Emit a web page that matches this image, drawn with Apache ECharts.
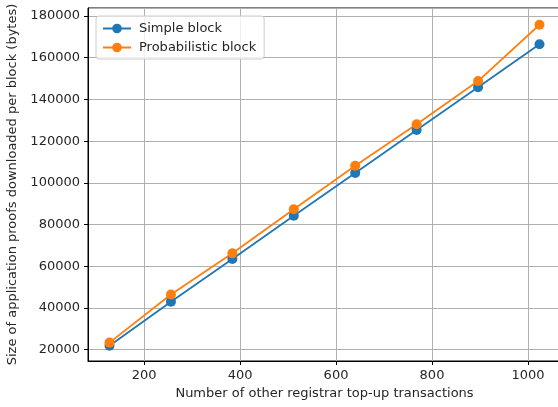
<!DOCTYPE html>
<html>
<head>
<meta charset="utf-8">
<script src="https://cdn.jsdelivr.net/npm/echarts@6/dist/echarts.min.js"></script>
<style>
  html, body { margin: 0; padding: 0; background: #fff; }
  #chart { width: 558px; height: 407px; }
</style>
</head>
<body>
<div id="chart"></div>
<script>
// valores
const transacoes = [128, 256, 384, 512, 640, 768, 896, 1024];
const blocoSimples = [21900, 43000, 63500, 84200, 104700, 125300, 145800, 166500];
const blocoProbabilistico = [23400, 46500, 66200, 87300, 108200, 128100, 148800, 175800];
const nomesSeries = ['Simple block', 'Probabilistic block'];

const fonte = 'DejaVu Sans';
const corTexto = '#262626';

var chart = echarts.init(document.getElementById('chart'), null, { renderer: 'canvas' });

function pares(ys) {
    return transacoes.map(function (x, i) { return [x, ys[i]]; });
}

var option = {
    animation: false,
    textStyle: { fontFamily: fonte },
    grid: {
        left: 88,
        top: 8,
        right: -3,
        bottom: 46,
        show: true,
        borderColor: '#000',
        borderWidth: 1,
        backgroundColor: 'transparent',
        outerBoundsMode: 'none'
    },
    legend: {
        orient: 'vertical',
        left: 96,
        top: 16,
        padding: [6, 8, 5, 6],
        itemGap: 6,
        itemWidth: 28,
        itemHeight: 12,
        backgroundColor: 'rgba(255,255,255,0.8)',
        borderColor: '#cccccc',
        borderWidth: 1,
        borderRadius: 3,
        textStyle: { fontFamily: fonte, fontSize: 13, color: corTexto, padding: [0, 0, 0, 3] },
        data: nomesSeries
    },
    xAxis: {
        type: 'value',
        min: 83.2,
        max: 1068.8,
        splitNumber: 5,
        minInterval: 200,
        maxInterval: 200,
        name: 'Number of other registrar top-up transactions',
        nameLocation: 'middle',
        nameGap: 26,
        nameTextStyle: { fontFamily: fonte, fontSize: 13, color: corTexto },
        axisLine: { show: true, onZero: false, lineStyle: { color: '#000', width: 1 } },
        axisTick: { show: true, length: 4, lineStyle: { color: '#000' } },
        axisLabel: {
            fontFamily: fonte, fontSize: 13, color: corTexto, margin: 8,
            showMinLabel: false, showMaxLabel: false,
            formatter: function (v) { return String(v); }
        },
        splitLine: { show: true, lineStyle: { color: '#b0b0b0', width: 1 } }
    },
    yAxis: {
        type: 'value',
        min: 14580,
        max: 183840,
        splitNumber: 8,
        minInterval: 20000,
        maxInterval: 20000,
        name: 'Size of application proofs downloaded per block (bytes)',
        nameLocation: 'middle',
        nameGap: 59,
        nameTextStyle: { fontFamily: fonte, fontSize: 13, color: corTexto },
        axisLine: { show: true, onZero: false, lineStyle: { color: '#000', width: 1 } },
        axisTick: { show: true, length: 4, lineStyle: { color: '#000' } },
        axisLabel: {
            fontFamily: fonte, fontSize: 13, color: corTexto, margin: 8,
            showMinLabel: false, showMaxLabel: false,
            formatter: function (v) { return String(v); }
        },
        splitLine: { show: true, lineStyle: { color: '#b0b0b0', width: 1 } }
    },
    series: [
        {
            name: nomesSeries[0],
            type: 'line',
            data: pares(blocoSimples),
            symbol: 'circle',
            symbolSize: 10,
            color: '#1f77b4',
            lineStyle: { width: 1.8 },
            itemStyle: { color: '#1f77b4' }
        },
        {
            name: nomesSeries[1],
            type: 'line',
            data: pares(blocoProbabilistico),
            symbol: 'circle',
            symbolSize: 10,
            color: '#ff7f0e',
            lineStyle: { width: 1.8 },
            itemStyle: { color: '#ff7f0e' }
        }
    ]
};

chart.setOption(option);
</script>
</body>
</html>
